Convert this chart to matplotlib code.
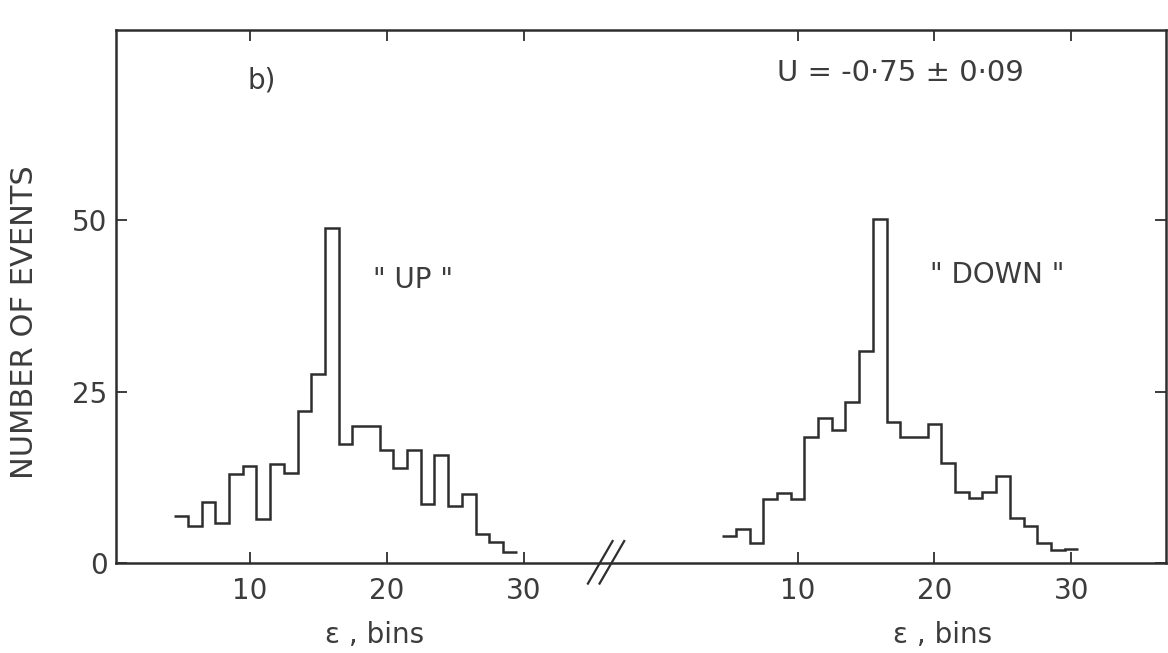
import numpy as np
import matplotlib
matplotlib.use("Agg")
import matplotlib.pyplot as plt
import matplotlib.transforms as mtransforms

# ---- data ----
up_edges = np.arange(4.5, 30.5, 1.0)          # bins centred on 5 ... 29
up_counts = [6.9, 5.4, 8.9, 5.9, 13.0, 14.1, 6.4, 14.4, 13.1, 22.1, 27.5, 48.8,
             17.3, 20.0, 20.0, 16.5, 13.8, 16.5, 8.6, 15.8, 8.3, 10.0, 4.3, 3.1, 1.6]
down_edges = np.arange(4.5, 31.5, 1.0)        # bins centred on 5 ... 30
down_counts = [3.9, 4.9, 2.9, 9.3, 10.2, 9.3, 18.3, 21.2, 19.4, 23.4, 30.9, 50.2,
               20.5, 18.4, 18.4, 20.3, 14.6, 10.4, 9.5, 10.4, 12.7, 6.5, 5.4, 2.9, 1.9, 2.0]
down_offset = 40                               # the broken axis: second panel starts at 40
xtick_values = [10, 20, 30]
ytick_values = [0, 25, 50]
panel_labels = ['" UP "', '" DOWN "']
result_text = "U = -0\u00b775 \u00b1 0\u00b709"

INK = "#2e2e2e"
TXT = "#3c3c3c"
FS = 20

plt.rcParams["font.family"] = ["DejaVu Sans"]

fig = plt.figure(figsize=(11.68, 6.53), dpi=100)
ax = fig.add_axes([116 / 1168, 1 - 563 / 653, 1050 / 1168, 533 / 653])

ax.stairs(up_counts, up_edges, baseline=None, color=INK, lw=1.8)
ax.stairs(down_counts, down_edges + down_offset, baseline=None, color=INK, lw=1.8)

ax.set_xlim(0.25, 76.9)
ax.set_ylim(0, 77.7)

xt = xtick_values + [v + down_offset for v in xtick_values]
ax.set_xticks(xt)
ax.set_xticklabels([str(v) for v in xtick_values] * 2)
ax.set_yticks(ytick_values)
ax.tick_params(axis="both", direction="in", length=8, width=1.3, color=INK,
               labelsize=FS, labelcolor=TXT, top=True, right=True)
ax.tick_params(axis="x", pad=10)
ax.tick_params(axis="y", pad=6)
for s in ax.spines.values():
    s.set_color(INK)
    s.set_linewidth(1.8)

ax.text(-0.087, 0.452, "NUMBER OF EVENTS", transform=ax.transAxes, rotation=90,
        ha="center", va="center", fontsize=22, color=TXT)

trans = mtransforms.blended_transform_factory(ax.transData, ax.transAxes)
for xc in [19.1, 19.1 + down_offset + 1.5]:
    ax.text(xc, -0.135, "\u025b , bins", transform=trans, ha="center", va="center",
            fontsize=FS, color=TXT)

ax.text(10.9, 70.4, "b)", ha="center", va="center", fontsize=FS, color=TXT)
ax.text(57.5, 71.4, result_text, ha="center", va="center", fontsize=21, color=TXT)
ax.text(21.9, 41.3, panel_labels[0], ha="center", va="center", fontsize=FS, color=TXT)
ax.text(64.6, 42.0, panel_labels[1], ha="center", va="center", fontsize=FS, color=TXT)

# axis-break mark "//"
for dx in [0.0, 0.85]:
    ax.plot([34.7 + dx, 36.5 + dx], [-3.0, 3.2], color=INK, lw=1.6, clip_on=False)

fig.savefig("out.png", dpi=100, facecolor="white")
